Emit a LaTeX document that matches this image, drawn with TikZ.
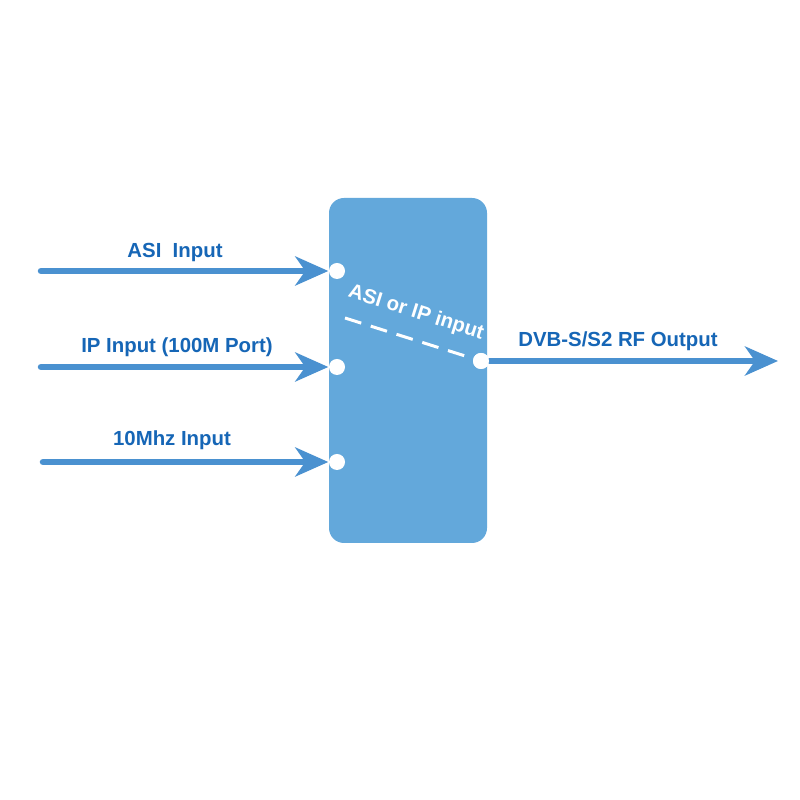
\documentclass[tikz,border=0pt]{standalone}
\usepackage{fontspec}
\setmainfont{Liberation Sans}
\usetikzlibrary{arrows.meta}
\definecolor{boxblue}{RGB}{99,168,219}
\definecolor{linkblue}{RGB}{74,145,208}
\definecolor{labelblue}{RGB}{22,102,182}
\begin{document}
\begin{tikzpicture}[
    block/.style ={draw=none, fill=boxblue, rounded corners=0.15cm, minimum width=1.58cm, minimum height=3.45cm, inner sep=0pt},
    port/.style ={circle, fill=white, minimum size=0.16cm, inner sep=0pt},
    link/.style ={draw=linkblue, line width=0.065cm, line cap=round, -{Stealth[length=0.33cm, width=0.29cm, inset=0.1cm]}},
    caption/.style ={font=\bfseries\fontsize{5.8pt}{7pt}\selectfont, text=labelblue, inner sep=0pt}]
   \useasboundingbox (0,0) rectangle (8,8);
   \fill[white] (0,0) rectangle (8,8);
   \node[block] (mod) at (4.08,4.295) {};
   \coordinate (s1) at (0.41,5.29);
   \coordinate (s2) at (0.41,4.33);
   \coordinate (s3) at (0.43,3.38);
   \coordinate (e) at (7.78,4.39);
   \coordinate (d) at (3.45,4.82);
   \node[port] (in1) at (3.37,5.29) {};
   \node[port] (in2) at (3.37,4.33) {};
   \node[port] (in3) at (3.37,3.38) {};
   \node[port] (out) at (4.81,4.39) {};
   \draw[link] (s1) to (in1.west);
   \draw[link] (s2) to (in2.west);
   \draw[link] (s3) to (in3.west);
   \draw[link] (out) to (e);
   \draw[white, line width=0.03cm, dash pattern=on 0.17cm off 0.1cm] (d) to (out);
   \node[port] at (out) {};
   \node[caption] (asi) at (1.75,5.47) {ASI~~Input};
   \node[caption] (ip) at (1.77,4.53) {IP Input (100M Port)};
   \node[caption] (ref) at (1.72,3.60) {10Mhz Input};
   \node[caption] (rf) at (6.18,4.59) {DVB-S/S2 RF Output};
   \node[caption, text=white, rotate=-17.5] (sel) at (4.16,4.87) {ASI or IP input};
 \end{tikzpicture}
\end{document}
